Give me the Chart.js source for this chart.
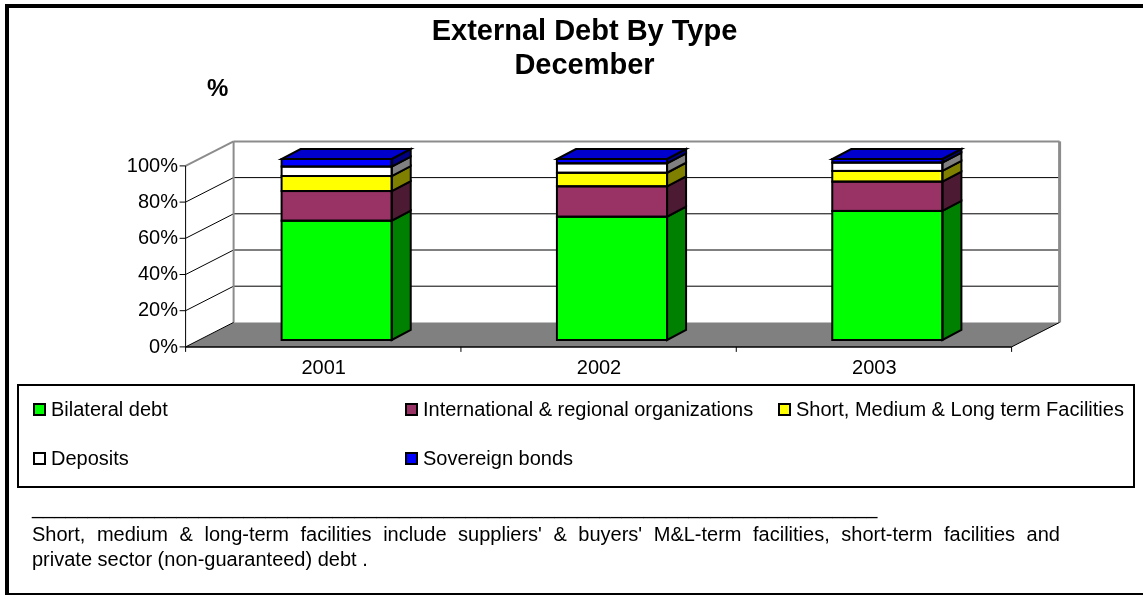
<!DOCTYPE html>
<html>
<head>
<meta charset="utf-8">
<title>External Debt By Type</title>
<script src="https://cdn.jsdelivr.net/npm/chart.js@4.4.1/dist/chart.umd.min.js"></script>
<style>
  body { margin: 0; background: #fff; }
  #wrap { position: relative; width: 1143px; height: 595px; overflow: hidden; background: #fff;
          font-family: 'Liberation Sans', Arial, sans-serif; color: #000; }
  #chart { position: absolute; left: 0; top: 0; }
  .frame { position: absolute; left: 5px; top: 4px; width: 1138px; height: 591px; box-sizing: border-box;
           border-left: 4px solid #000; border-top: 4px solid #000; border-bottom: 2px solid #000; }
  #pct { position: absolute; left: 207px; top: 76px; font-size: 24px; font-weight: bold; line-height: 24px; }
  #legend { position: absolute; left: 17px; top: 384px; width: 1118px; height: 104px; box-sizing: border-box;
            border: 2px solid #000; }
  .item { position: absolute; display: flex; align-items: center; height: 24px; font-size: 20px;
          line-height: 24px; white-space: nowrap; }
  .swatch { display: inline-block; width: 9px; height: 9px; border: 2px solid #000; margin-right: 5px; }
  .rule { position: absolute; left: 32px; top: 495px; font-size: 20px; line-height: 24px; white-space: nowrap; }
  .note { position: absolute; left: 32px; width: 1028px; font-size: 20px; line-height: 25px; white-space: nowrap; }
  .note.l1 { top: 522px; text-align: justify; text-align-last: justify; white-space: normal; }
  .note.l2 { top: 547px; }
</style>
</head>
<body>
<div id="wrap">
  <canvas id="chart" width="1143" height="595"></canvas>
  <div class="frame"></div>
  <div id="pct">%</div>
  <div id="legend"></div>
  <div class="rule">____________________________________________________________________________</div>
  <div class="note l1">Short, medium &amp; long-term facilities include suppliers' &amp; buyers' M&amp;L-term facilities, short-term facilities and</div>
  <div class="note l2">private sector (non-guaranteed) debt .</div>
</div>
<script>
const years = ['2001', '2002', '2003'];
const seriesNames = [
  'Bilateral debt',
  'International & regional organizations',
  'Short, Medium & Long term Facilities',
  'Deposits',
  'Sovereign bonds'
];
// share of total external debt, %
const bilateral  = [65.9, 68.1, 71.3];
const intlOrgs   = [16.4, 16.8, 16.2];
const facilities = [8.3, 7.5, 5.9];
const deposits   = [5.2, 5.2, 4.6];
const bonds      = [4.2, 2.4, 2.0];
const yTicks = [0, 20, 40, 60, 80, 100];

const faceColors = ['#00ff00', '#993366', '#ffff00', '#ffffff', '#0000ff'];
const sideColors = ['#008000', '#4d1a33', '#808000', '#808080', '#000080'];
const topColor = '#0000cc';

const FONT = "'Liberation Sans', Arial, sans-serif";
Chart.defaults.font.family = FONT;
Chart.defaults.color = '#000';

// fake 3d: offsets of the front plane, back wall and bar depth relative to the bar faces
const FRONT = [-13.4, 6.9];
const WALL = [34.6, -17.6];
const DEPTH = [19, -10];

function poly(ctx, pts, fill, stroke, lw) {
  ctx.beginPath();
  ctx.moveTo(pts[0][0], pts[0][1]);
  for (let i = 1; i < pts.length; i++) ctx.lineTo(pts[i][0], pts[i][1]);
  ctx.closePath();
  if (fill) { ctx.fillStyle = fill; ctx.fill(); }
  if (stroke) { ctx.strokeStyle = stroke; ctx.lineWidth = lw || 1; ctx.stroke(); }
}
function line(ctx, a, b, color, lw) {
  ctx.beginPath();
  ctx.moveTo(a[0], a[1]);
  ctx.lineTo(b[0], b[1]);
  ctx.strokeStyle = color;
  ctx.lineWidth = lw;
  ctx.stroke();
}

const room3d = {
  id: 'room3d',
  beforeDatasetsDraw(chart) {
    const { ctx, chartArea: a, scales: { y } } = chart;
    const F = (px, py) => [px + FRONT[0], py + FRONT[1]];
    const W = (px, py) => [px + WALL[0], py + WALL[1]];
    ctx.save();
    // floor
    poly(ctx, [F(a.left, a.bottom), F(a.right, a.bottom), W(a.right, a.bottom), W(a.left, a.bottom)], '#808080');
    // gridlines on back wall and left wall
    yTicks.forEach(v => {
      if (v === 0 || v === 100) return;
      const py = y.getPixelForValue(v);
      line(ctx, W(a.left, py), W(a.right, py), '#000', 1);
      line(ctx, F(a.left, py), W(a.left, py), '#000', 1);
    });
    // wall edges
    const g = '#8c8c8c';
    line(ctx, W(a.left, a.top), W(a.right, a.top), g, 2);
    line(ctx, W(a.right, a.top), W(a.right, a.bottom), g, 3);
    line(ctx, W(a.left, a.top), W(a.left, a.bottom), g, 2);
    line(ctx, F(a.left, a.top), W(a.left, a.top), g, 2);
    // floor edges
    line(ctx, F(a.left, a.bottom), W(a.left, a.bottom), '#000', 1);
    line(ctx, F(a.right, a.bottom), W(a.right, a.bottom), '#000', 1);
    // value axis with tick marks
    line(ctx, F(a.left, a.top), F(a.left, a.bottom), '#000', 1);
    yTicks.forEach(v => {
      const p = F(a.left, y.getPixelForValue(v));
      line(ctx, [p[0] - 6, p[1]], p, '#000', 1);
    });
    // category axis with tick marks between categories
    line(ctx, F(a.left, a.bottom), F(a.right, a.bottom), '#000', 1.5);
    const n = chart.data.labels.length;
    for (let i = 0; i <= n; i++) {
      const p = F(a.left + i * (a.right - a.left) / n, a.bottom);
      line(ctx, p, [p[0], p[1] + 5], '#000', 1);
    }
    ctx.restore();
  },
  afterDatasetsDraw(chart) {
    const { ctx } = chart;
    const last = chart.data.datasets.length - 1;
    ctx.save();
    ctx.lineJoin = 'miter';
    chart.data.datasets.forEach((ds, di) => {
      chart.getDatasetMeta(di).data.forEach(bar => {
        const { x, y, base, width } = bar.getProps(['x', 'y', 'base', 'width'], true);
        const l = x - width / 2, r = x + width / 2;
        poly(ctx, [[r, y], [r + DEPTH[0], y + DEPTH[1]], [r + DEPTH[0], base + DEPTH[1]], [r, base]],
          sideColors[di], '#000', 2);
        if (di === last) {
          poly(ctx, [[l, y], [r, y], [r + DEPTH[0], y + DEPTH[1]], [l + DEPTH[0], y + DEPTH[1]]],
            topColor, '#000', 2);
        }
        ctx.strokeStyle = '#000';
        ctx.lineWidth = 2;
        ctx.strokeRect(l, y, width, base - y);
      });
    });
    ctx.restore();
  }
};

const seriesValues = [bilateral, intlOrgs, facilities, deposits, bonds];

new Chart(document.getElementById('chart'), {
  type: 'bar',
  data: {
    labels: years,
    datasets: seriesValues.map((vals, i) => ({
      label: seriesNames[i],
      data: vals,
      backgroundColor: faceColors[i],
      borderWidth: 0,
      barPercentage: 0.4,
      categoryPercentage: 1.0
    }))
  },
  options: {
    responsive: false,
    animation: false,
    layout: { padding: { left: 26, top: 0, right: 0, bottom: 0 } },
    plugins: {
      legend: { display: false },
      tooltip: { enabled: false },
      title: {
        display: true,
        text: ['External Debt By Type', 'December'],
        color: '#000',
        font: { family: FONT, size: 29, weight: 'bold', lineHeight: 34 / 29 },
        padding: { top: 15, bottom: 76 }
      }
    },
    scales: {
      x: {
        stacked: true,
        grid: { display: false, drawTicks: false, tickLength: 0 },
        border: { display: false },
        ticks: { color: '#000', font: { size: 20 }, padding: 16, labelOffset: -13 },
        afterFit: s => { s.height = 255; }
      },
      y: {
        stacked: true,
        min: 0,
        max: 100,
        grid: { display: false, drawTicks: false, tickLength: 0 },
        border: { display: false },
        ticks: { stepSize: 20, color: '#000', font: { size: 20 }, padding: 21, labelOffset: 7,
                 callback: v => v + '%' },
        afterFit: s => { s.width = 173; }
      },
      y2: {
        position: 'right',
        grid: { display: false, drawTicks: false },
        border: { display: false },
        ticks: { display: false },
        afterFit: s => { s.width = 118; }
      }
    }
  },
  plugins: [room3d]
});

// legend box: two rows, fixed columns
const legendSlots = [[14, 11], [386, 11], [759, 11], [14, 60], [386, 60]];
const legend = document.getElementById('legend');
seriesNames.forEach((name, i) => {
  const item = document.createElement('div');
  item.className = 'item';
  item.style.left = legendSlots[i][0] + 'px';
  item.style.top = legendSlots[i][1] + 'px';
  const sw = document.createElement('span');
  sw.className = 'swatch';
  sw.style.background = faceColors[i];
  item.appendChild(sw);
  item.appendChild(document.createTextNode(name));
  legend.appendChild(item);
});
</script>
</body>
</html>
